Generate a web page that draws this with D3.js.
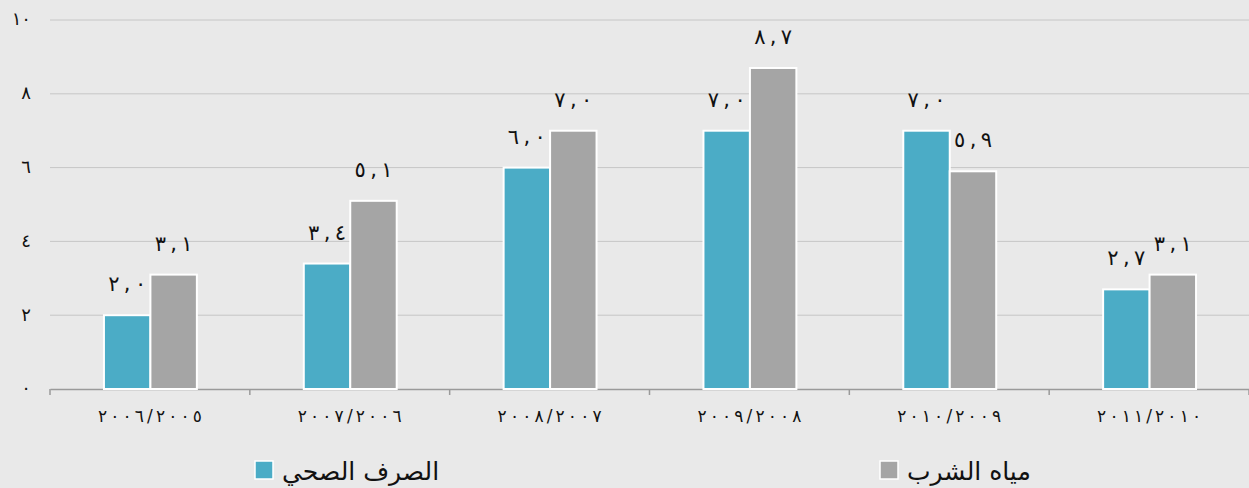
<!DOCTYPE html>
<html><head><meta charset="utf-8">
<script src="https://cdn.jsdelivr.net/npm/d3@7"></script>
<style>
html,body{margin:0;padding:0;background:#e9e9e9;}
svg{display:block;}
text{font-family:"DejaVu Sans","Noto Sans",sans-serif;fill:#111;}
</style></head>
<body>
<svg id="chart" width="1249" height="488"></svg>
<script>
const categories = ["2006/2005","2007/2006","2008/2007","2009/2008","2010/2009","2011/2010"];
const seriesNames = ["الصرف الصحي","مياه الشرب"];
const sewage = [2.0,3.4,6.0,7.0,7.0,2.7];
const water = [3.1,5.1,7.0,8.7,5.9,3.1];
const yTicks = [0,2,4,6,8,10];
const colors = ["#4bacc6","#a5a5a5"];

const arDigits = "٠١٢٣٤٥٦٧٨٩";
const toAr = s => String(s).replace(/[0-9]/g, d => arDigits[+d]);

const W = 1249, H = 488;
const m = {left:50, right:0, top:20, bottom:99};
const svg = d3.select("#chart");
svg.append("rect").attr("width",W).attr("height",H).attr("fill","#e9e9e9");

const x0 = d3.scaleBand().domain(categories).range([m.left, W - m.right]).paddingInner(0).paddingOuter(0);
const x1 = d3.scaleBand().domain([0,1]).range([x0.bandwidth()*0.27, x0.bandwidth()*0.735]).padding(0);
const y = d3.scaleLinear().domain([0,10]).range([H - m.bottom, m.top]);

// gridlines
svg.append("g").selectAll("line").data(yTicks.filter(t=>t>0)).join("line")
  .attr("x1", m.left).attr("x2", W - m.right)
  .attr("y1", d=>y(d)).attr("y2", d=>y(d))
  .attr("stroke","#c6c6c6").attr("stroke-width",1);

// y labels
svg.append("g").selectAll("text").data(yTicks).join("text")
  .attr("x", 31).attr("y", d=>y(d)).attr("dy","0.3em")
  .attr("text-anchor","end").attr("font-size",18)
  .text(d=>toAr(d));

// x axis
const xAxis = d3.axisBottom(x0).tickSize(0).tickFormat(d=>toAr(d));
const gx = svg.append("g").attr("transform",`translate(0,${y(0)})`).call(xAxis);
gx.select(".domain").attr("stroke","#9a9a9a").attr("stroke-width",1.5);
gx.selectAll("text").attr("font-size",17).attr("dy","1.75em").attr("fill","#111")
  .attr("font-family",'"DejaVu Sans",sans-serif')
  .attr("textLength",104).attr("lengthAdjust","spacing");
// boundary ticks
const bounds = categories.map(c=>x0(c)).concat([x0(categories[categories.length-1])+x0.bandwidth()]);
svg.append("g").selectAll("line").data(bounds).join("line")
  .attr("x1",d=>d).attr("x2",d=>d).attr("y1",y(0)).attr("y2",y(0)+6)
  .attr("stroke","#9a9a9a").attr("stroke-width",1.5);

// bars
const data = categories.map((c,i)=>({c, vals:[sewage[i], water[i]]}));
const groups = svg.append("g").selectAll("g").data(data).join("g")
  .attr("transform", d=>`translate(${x0(d.c)},0)`);
groups.selectAll("rect").data(d=>d.vals.map((v,k)=>({v,k}))).join("rect")
  .attr("x", d=>x1(d.k)).attr("width", x1.bandwidth())
  .attr("y", d=>y(d.v)).attr("height", d=>y(0)-y(d.v))
  .attr("fill", d=>colors[d.k]).attr("stroke","#fff").attr("stroke-width",2);
groups.selectAll("text.val").data(d=>d.vals.map((v,k)=>({v,k}))).join("text")
  .attr("class","val")
  .attr("x", d=>x1(d.k)+x1.bandwidth()/2).attr("y", d=>y(d.v)-24)
  .attr("text-anchor","middle").attr("font-size",21)
  .attr("textLength",38).attr("lengthAdjust","spacing")
  .text(d=>toAr(d.v.toFixed(1).replace(".",",")));

// legend
const legendX = [255, 880];
const lg = svg.append("g").selectAll("g").data(seriesNames).join("g")
  .attr("transform",(d,i)=>`translate(${legendX[i]},461)`);
lg.append("rect").attr("width",18).attr("height",18).attr("fill",(d,i)=>colors[i])
  .attr("stroke","#fff").attr("stroke-width",1.5);
lg.append("text").attr("x",27).attr("y",19).attr("font-size",25)
  .attr("text-anchor","start")
  .text(d=>d);
</script>
</body></html>
